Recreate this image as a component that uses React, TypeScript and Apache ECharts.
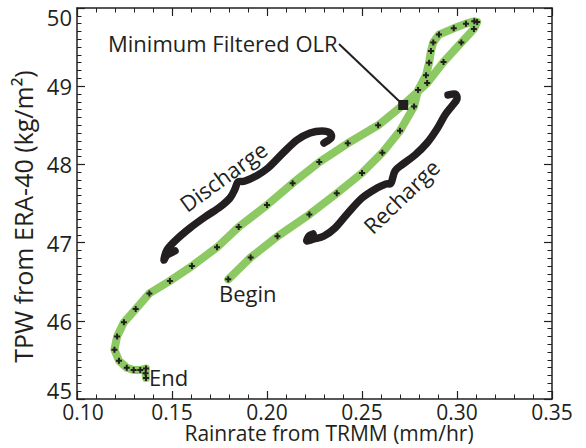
import React, { useEffect, useRef } from "react";
import * as echarts from "echarts";

// Rainrate (mm/hr) along the trajectory, from "Begin" to "End"
const rainrate = [
  0.1796, 0.1914, 0.2055, 0.2223, 0.2367, 0.25, 0.2607, 0.27, 0.2774, 0.2795,
  0.2837, 0.2853, 0.2863, 0.2875, 0.2905, 0.2983, 0.3047, 0.3091, 0.3106,
  0.3089, 0.3023, 0.2929, 0.2843, 0.2717, 0.2585, 0.2425, 0.2275, 0.2135, 0.2,
  0.1851, 0.1737, 0.1605, 0.1489, 0.1381, 0.1309, 0.1247, 0.1211, 0.1197,
  0.1221, 0.1262, 0.1298, 0.1333, 0.1363, 0.1361, 0.1363,
];
// TPW (kg/m^2)
const tpw = [
  46.53, 46.81, 47.08, 47.36, 47.63, 47.89, 48.15, 48.43, 48.74, 48.95, 49.14,
  49.3, 49.45, 49.56, 49.66, 49.74, 49.8, 49.83, 49.82, 49.73, 49.56, 49.31,
  49.04, 48.76, 48.5, 48.27, 48.03, 47.76, 47.48, 47.2, 46.94, 46.7, 46.51,
  46.35, 46.15, 45.98, 45.8, 45.63, 45.49, 45.4, 45.37, 45.37, 45.39, 45.33,
  45.27,
];
const olrMinIndex = 23;
const xTicks = { min: 0.1, max: 0.35, interval: 0.05 };
const yTicks = { min: 45, max: 50, interval: 1 };
const xTitle = "Rainrate from TRMM (mm/hr)";
const yTitle = "TPW from ERA-40 (kg/m²)";

const INK = "#231f20";
const GREEN = "#8dc963";
const FONT = "Open Sans";

function smoothPath(pts: number[][]): string {
  let d = `M${pts[0][0]} ${pts[0][1]}`;
  for (let i = 0; i < pts.length - 1; i++) {
    const p0 = pts[i - 1] || pts[i];
    const p1 = pts[i];
    const p2 = pts[i + 1];
    const p3 = pts[i + 2] || p2;
    const c1x = p1[0] + (p2[0] - p0[0]) / 6;
    const c1y = p1[1] + (p2[1] - p0[1]) / 6;
    const c2x = p2[0] - (p3[0] - p1[0]) / 6;
    const c2y = p2[1] - (p3[1] - p1[1]) / 6;
    d += ` C${c1x.toFixed(2)} ${c1y.toFixed(2)} ${c2x.toFixed(2)} ${c2y.toFixed(2)} ${p2[0]} ${p2[1]}`;
  }
  return d;
}

const dischargeBracePts = [
  [175, 251], [167, 255], [164, 260], [167, 250], [176, 240], [190, 228],
  [205, 217], [220, 207], [230, 198], [235, 189], [238, 182], [245, 181],
  [256, 176], [268, 168], [283, 153], [297, 140], [310, 133], [322, 131],
  [330, 133], [331, 138], [324, 143],
];
const rechargeBracePts = [
  [448, 95], [455, 94], [457, 99], [452, 106], [445, 115], [437, 129],
  [427, 143], [415, 155], [403, 164], [395, 171], [391, 183], [386, 184],
  [377, 188], [362, 198], [348, 213], [335, 228], [324, 236], [314, 239],
  [307, 241], [309, 236], [313, 234],
];

export default function App() {
  const ref = useRef<HTMLDivElement>(null);
  useEffect(() => {
    document.body.style.margin = "0";
    echarts.graphic.registerShape(
      "dischargeBrace",
      echarts.graphic.extendPath(smoothPath(dischargeBracePts), {})
    );
    echarts.graphic.registerShape(
      "rechargeBrace",
      echarts.graphic.extendPath(smoothPath(rechargeBracePts), {})
    );
    const chart = echarts.init(ref.current!, null, { renderer: "svg" });
    const plus = "path://M2,0H4V2H6V4H4V6H2V4H0V2H2Z";
    const data = rainrate.map((x, i) =>
      i === olrMinIndex
        ? { value: [x, tpw[i]], symbol: "rect", symbolSize: 10 }
        : { value: [x, tpw[i]] }
    );
    const axisCommon = {
      axisLine: { show: true, onZero: false, lineStyle: { color: INK, width: 1.5 } },
      axisTick: { show: true, inside: true, length: 8, lineStyle: { color: INK, width: 1.2 } },
      minorTick: { show: true, length: 4.5, lineStyle: { color: INK, width: 1 } },
      splitLine: { show: false },
    };
    const xLabelStyle = { color: INK, fontSize: 21, fontFamily: FONT, lineHeight: 16 };
    const yLabelStyle = { color: INK, fontSize: 22, fontFamily: FONT, lineHeight: 16 };
    const braceStyle = {
      fill: "none",
      stroke: INK,
      lineWidth: 7.5,
      lineCap: "round",
      lineJoin: "round",
    };
    const textStyle = (text: string) => ({
      text,
      fill: INK,
      fontSize: 22,
      fontFamily: FONT,
      textAlign: "center",
      textVerticalAlign: "middle",
    });
    chart.setOption({
      animation: false,
      backgroundColor: "#ffffff",
      grid: { left: 77, right: 34, top: 8, bottom: 49, outerBoundsMode: "none", containLabel: false },
      xAxis: [
        {
          type: "value",
          ...xTicks,
          ...axisCommon,
          minorTick: { ...axisCommon.minorTick, splitNumber: 5 },
          axisLabel: {
            ...xLabelStyle,
            margin: 5,
            formatter: (v: number) =>
              Math.abs(v - xTicks.min) < 1e-9 ? `{first|${v.toFixed(2)}}` : v.toFixed(2),
            rich: { first: { ...xLabelStyle, padding: [0, 0, 0, 12] } },
          },
        },
        {
          type: "value",
          position: "top",
          ...xTicks,
          ...axisCommon,
          minorTick: { ...axisCommon.minorTick, splitNumber: 5 },
          axisLabel: { show: false },
        },
      ],
      yAxis: [
        {
          type: "value",
          ...yTicks,
          ...axisCommon,
          minorTick: { ...axisCommon.minorTick, splitNumber: 10 },
          axisLabel: {
            ...yLabelStyle,
            margin: 5,
            showMinLabel: false,
            showMaxLabel: false,
          },
          name: yTitle,
          nameLocation: "middle",
          nameRotate: 90,
          nameGap: 25,
          nameTextStyle: { color: INK, fontSize: 25, fontFamily: FONT, padding: [0, 26, 0, 0] },
        },
        {
          type: "value",
          position: "right",
          ...yTicks,
          ...axisCommon,
          minorTick: { ...axisCommon.minorTick, splitNumber: 10 },
          axisLabel: { show: false },
        },
      ],
      series: [
        {
          type: "line",
          data,
          symbol: plus,
          symbolSize: 6,
          showSymbol: true,
          showAllSymbol: true,
          lineStyle: { color: GREEN, width: 8, cap: "round", join: "round" },
          itemStyle: { color: INK },
          z: 3,
        },
      ],
      graphic: [
        { type: "text", x: 72, y: 17, style: { ...textStyle(String(yTicks.max)), textAlign: "right" }, z: 10 },
        { type: "text", x: 72, y: 390, style: { ...textStyle(String(yTicks.min)), textAlign: "right" }, z: 10 },
        { type: "text", x: 329, y: 433, style: { ...textStyle(xTitle), fontSize: 21 }, z: 10 },
        { type: "dischargeBrace", x: 0, y: 0, style: braceStyle, z: 10 },
        { type: "rechargeBrace", x: 0, y: 0, style: braceStyle, z: 10 },
        {
          type: "line",
          shape: { x1: 339, y1: 44, x2: 399, y2: 101 },
          style: { stroke: INK, lineWidth: 2 },
          z: 10,
        },
        { type: "text", x: 108, y: 43, style: { ...textStyle("Minimum Filtered OLR"), textAlign: "left" }, z: 10 },
        { type: "text", x: 223, y: 176, rotation: (36 * Math.PI) / 180, style: textStyle("Discharge"), z: 10 },
        { type: "text", x: 401, y: 196, rotation: (44 * Math.PI) / 180, style: textStyle("Recharge"), z: 10 },
        { type: "text", x: 219, y: 293, style: { ...textStyle("Begin"), textAlign: "left" }, z: 10 },
        { type: "text", x: 149, y: 377, style: { ...textStyle("End"), textAlign: "left" }, z: 10 },
      ],
    });
    return () => chart.dispose();
  }, []);
  return <div ref={ref} style={{ width: 586, height: 448 }} />;
}
